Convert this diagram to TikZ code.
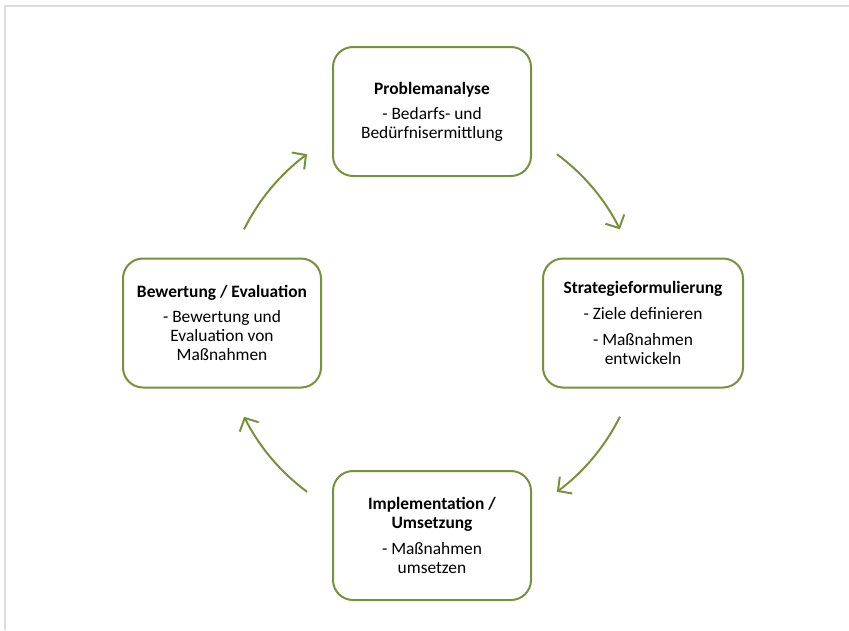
\documentclass[tikz,border=0pt]{standalone}
\usepackage{fontspec}
\setmainfont{Carlito}
\usetikzlibrary{positioning,arrows.meta}
\definecolor{olive}{HTML}{76923C}
\definecolor{frame}{HTML}{DDDDDD}

\begin{document}
\begin{tikzpicture}[
  x=1pt, y=1pt,
  every node/.style={font=\fontsize{17.4}{19}\selectfont},
  phase/.style={rectangle, draw=olive, fill=white, rounded corners=20pt,
                minimum width=198pt, minimum height=129pt, line width=2pt,
                align=center, outer sep=0pt, inner sep=2pt},
  cyc/.style={-{Straight Barb[length=10pt,width=21pt]}, line width=2pt, olive},
  rim/.style={line width=2.5pt, frame},
]
\useasboundingbox (0,0) rectangle (849,-630);

% frame lines (top and left only)
\draw[rim] (5,-630) -- (5,-6) -- (849,-6);

% cycle centre
\coordinate (mid) at (432,-323);

% the four phases
\node[phase, above=147pt of mid] (prob) {\textbf{Problemanalyse}\\[6pt]
  - Bedarfs- und\\ Bedürfnisermittlung};
\node[phase, right=111pt of mid, minimum width=200pt] (strat) {\textbf{Strategieformulierung}\\[7pt]
  - Ziele definieren\\[7pt] - Maßnahmen\\ entwickeln};
\node[phase, below=148pt of mid] (impl) {\textbf{Implementation /}\\ \textbf{Umsetzung}\\[7pt]
  - Maßnahmen\\ umsetzen};
\node[phase, left=111pt of mid] (eval) {\textbf{Bewertung / Evaluation}\\[6pt]
  - Bewertung und\\ Evaluation von\\ Maßnahmen};

% arrow start points on the circle
\path (mid) ++(53.5:210) coordinate (a1)
      (mid) ++(-26.5:210) coordinate (a2)
      (mid) ++(-126.5:210) coordinate (a3)
      (mid) ++(153.5:210) coordinate (a4);

% curved arrows, clockwise
\draw[cyc] (a1) arc[start angle=53.5, end angle=26.5, radius=210];
\draw[cyc] (a2) arc[start angle=-26.5, end angle=-53.5, radius=210];
\draw[cyc] (a3) arc[start angle=-126.5, end angle=-153.5, radius=210];
\draw[cyc] (a4) arc[start angle=153.5, end angle=126.5, radius=210];

\end{tikzpicture}
\end{document}
